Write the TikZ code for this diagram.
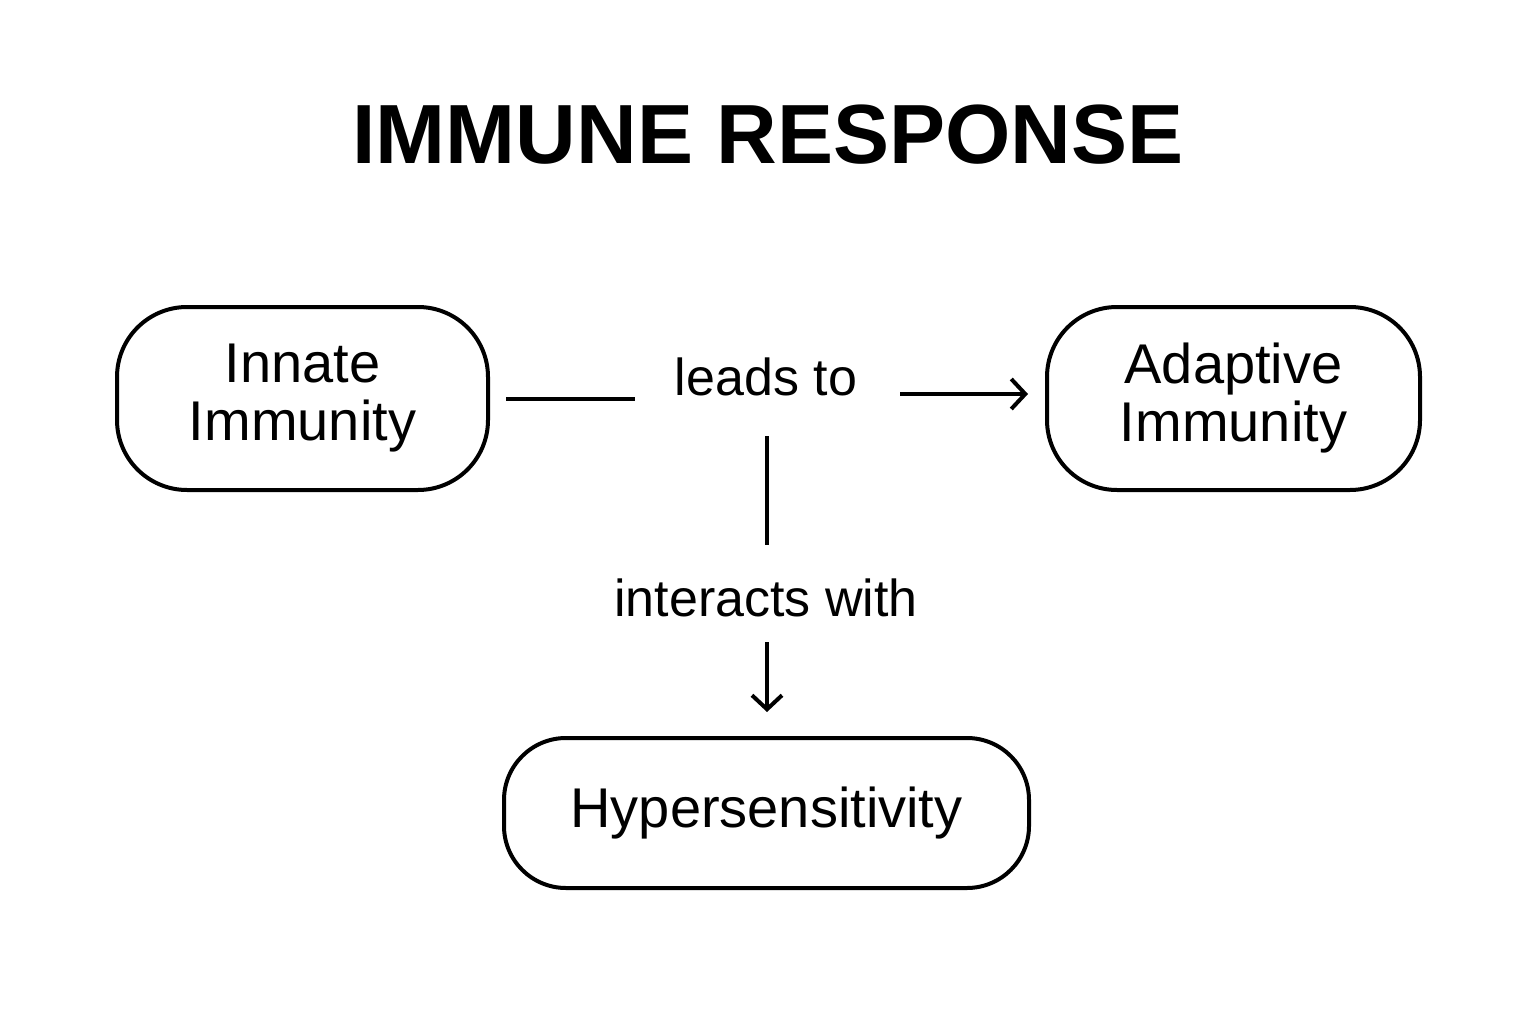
\documentclass[tikz,border=0pt]{standalone}
\usepackage{fontspec}
\setmainfont{Liberation Sans}
\usetikzlibrary{positioning,arrows.meta}

\begin{document}
\begin{tikzpicture}[x=1pt,y=-1pt,
    box/.style={rectangle,rounded corners=70pt,draw=black,line width=4pt,
        align=center,font=\fontsize{56}{58}\selectfont,inner sep=0pt},
    label/.style={inner sep=0pt,font=\fontsize{52}{56}\selectfont},
    link/.style={line width=4pt,-{Straight Barb[length=14pt,width=30pt,line width=4pt]}},
]
    \useasboundingbox (0,0) rectangle (1536,1024);

    % title
    \node[font=\bfseries\fontsize{84}{90}\selectfont] (title) at (768,135) {IMMUNE RESPONSE};

    % boxes
    \node[box,minimum width=371pt,minimum height=183pt] (innate) at (302.5,398.5) {Innate\\Immunity};
    \node[box,minimum width=373pt,minimum height=183pt] (adaptive) at (1233.5,398.5) {Adaptive\\Immunity};
    \node[box,minimum width=525pt,minimum height=150pt,rounded corners=62pt] (hyper) at (766.5,813) {Hypersensitivity};

    % labels
    \node[label] (leads) at (766,377) {leads to};
    \node[label] (inter) at (766,598) {interacts with};

    % connectors
    \draw[line width=4pt,shorten <=16pt] (innate.east) -- (innate.east -| 635,0);
    \coordinate (gap) at (900,394);
    \draw[link,shorten >=17pt] (gap) -- (gap -| adaptive.west);
    \coordinate (down) at (767,436);
    \draw[line width=4pt] (down) -- (767,545);
    \coordinate (downB) at (767,642);
    \draw[link,shorten >=24pt] (downB) -- (downB |- hyper.north);
\end{tikzpicture}
\end{document}
